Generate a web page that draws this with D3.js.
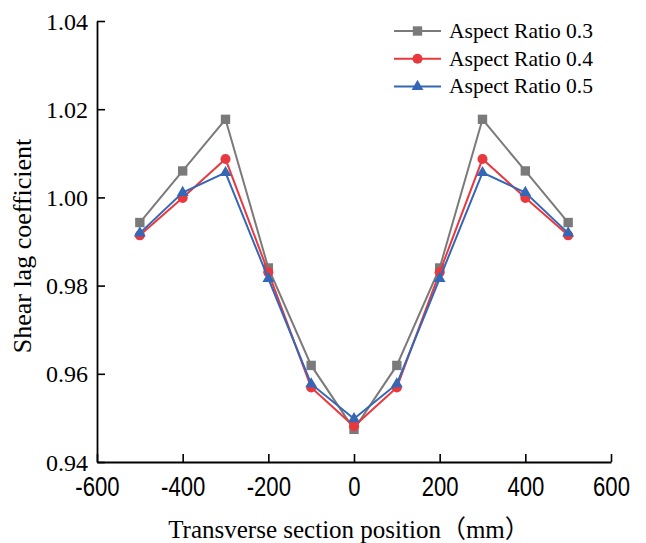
<!DOCTYPE html>
<html>
<head>
<meta charset="utf-8">
<script src="https://cdn.jsdelivr.net/npm/d3@7"></script>
<style>
  html, body { margin: 0; padding: 0; background: #ffffff; }
  svg { display: block; }
</style>
</head>
<body>
<svg id="chart" width="646" height="543"></svg>
<script>
// ---- data ----
const positions = [-500, -400, -300, -200, -100, 0, 100, 200, 300, 400, 500];
const ratio03 = [0.9943, 1.0060, 1.0177, 0.9840, 0.9619, 0.9474, 0.9619, 0.9840, 1.0177, 1.0060, 0.9943];
const ratio04 = [0.9914, 0.9999, 1.0087, 0.9830, 0.9569, 0.9481, 0.9569, 0.9830, 1.0087, 0.9999, 0.9914];
const ratio05 = [0.9919, 1.0011, 1.0056, 0.9816, 0.9577, 0.9498, 0.9577, 0.9816, 1.0056, 1.0011, 0.9919];
const seriesNames = ["Aspect Ratio 0.3", "Aspect Ratio 0.4", "Aspect Ratio 0.5"];
const xTicks = [-600, -400, -200, 0, 200, 400, 600];
const yTicks = [0.94, 0.96, 0.98, 1.00, 1.02, 1.04];
const xTitle = "Transverse section position（mm）";
const yTitle = "Shear lag coefficient";

// ---- styling ----
const colors = ["#7a7a7a", "#e8393f", "#3467b6"];
const symbols = [d3.symbolSquare, d3.symbolCircle, d3.symbolTriangle];
const symSizes = [88, 80, 60];

const svg = d3.select("#chart");
svg.append("rect").attr("width", 646).attr("height", 543).attr("fill", "#fff");

const x = d3.scaleLinear().domain([-600, 600]).range([97, 611]);
const y = d3.scaleLinear().domain([0.94, 1.04]).range([462, 21]);

// axes
const xAxis = svg.append("g").attr("transform", "translate(0,462)")
  .call(d3.axisBottom(x).tickValues(xTicks).tickSizeInner(-8).tickSizeOuter(0).tickPadding(15).tickFormat(d => String(d)));
const yAxis = svg.append("g").attr("transform", "translate(97,0)")
  .call(d3.axisLeft(y).tickValues(yTicks).tickSizeInner(-8).tickSizeOuter(0).tickPadding(9).tickFormat(d3.format(".2f")));

[xAxis, yAxis].forEach(g => {
  g.select(".domain").attr("stroke", "#000").attr("stroke-width", 1.8);
  g.selectAll(".tick line").attr("stroke", "#000").attr("stroke-width", 1.6);
});
xAxis.selectAll(".tick text")
  .attr("fill", "#000")
  .attr("font-family", "'Liberation Sans', Arial, sans-serif")
  .attr("font-size", 27)
  .attr("transform", "scale(0.82,1)")
  .attr("dy", "0.71em");
yAxis.selectAll(".tick text")
  .attr("fill", "#000")
  .attr("font-family", "'Liberation Serif', 'Times New Roman', serif")
  .attr("font-size", 24)
  .attr("dy", "0.34em");

// axis titles
svg.append("text")
  .attr("x", 349).attr("y", 538)
  .attr("text-anchor", "middle")
  .attr("font-family", "'Liberation Serif', 'Times New Roman', 'Noto Sans CJK SC', serif")
  .attr("font-size", 25)
  .attr("fill", "#000")
  .text(xTitle);

svg.append("text")
  .attr("transform", "translate(31,246) rotate(-90)")
  .attr("text-anchor", "middle")
  .attr("font-family", "'Liberation Serif', 'Times New Roman', serif")
  .attr("font-size", 26)
  .attr("fill", "#000")
  .text(yTitle);

// series
const allSeries = [ratio03, ratio04, ratio05];
const line = d3.line().x((d, i) => x(positions[i])).y(d => y(d));

allSeries.forEach((vals, si) => {
  const g = svg.append("g");
  g.append("path")
    .datum(vals)
    .attr("fill", "none")
    .attr("stroke", colors[si])
    .attr("stroke-width", 2)
    .attr("d", line);
  g.selectAll("path.mk")
    .data(vals)
    .join("path")
    .attr("class", "mk")
    .attr("transform", (d, i) => `translate(${x(positions[i])},${y(d)})`)
    .attr("d", d3.symbol().type(symbols[si]).size(symSizes[si]))
    .attr("fill", colors[si]);
});

// legend
const legend = svg.append("g");
seriesNames.forEach((name, i) => {
  const ly = 31 + i * 27.8;
  legend.append("line")
    .attr("x1", 394).attr("x2", 441).attr("y1", ly).attr("y2", ly)
    .attr("stroke", colors[i]).attr("stroke-width", 2);
  legend.append("path")
    .attr("transform", `translate(417.5,${ly})`)
    .attr("d", d3.symbol().type(symbols[i]).size(symSizes[i]))
    .attr("fill", colors[i]);
  legend.append("text")
    .attr("x", 449).attr("y", ly + 6.8)
    .attr("font-family", "'Liberation Serif', 'Times New Roman', serif")
    .attr("font-size", 21.5)
    .attr("fill", "#000")
    .text(name);
});
</script>
</body>
</html>
